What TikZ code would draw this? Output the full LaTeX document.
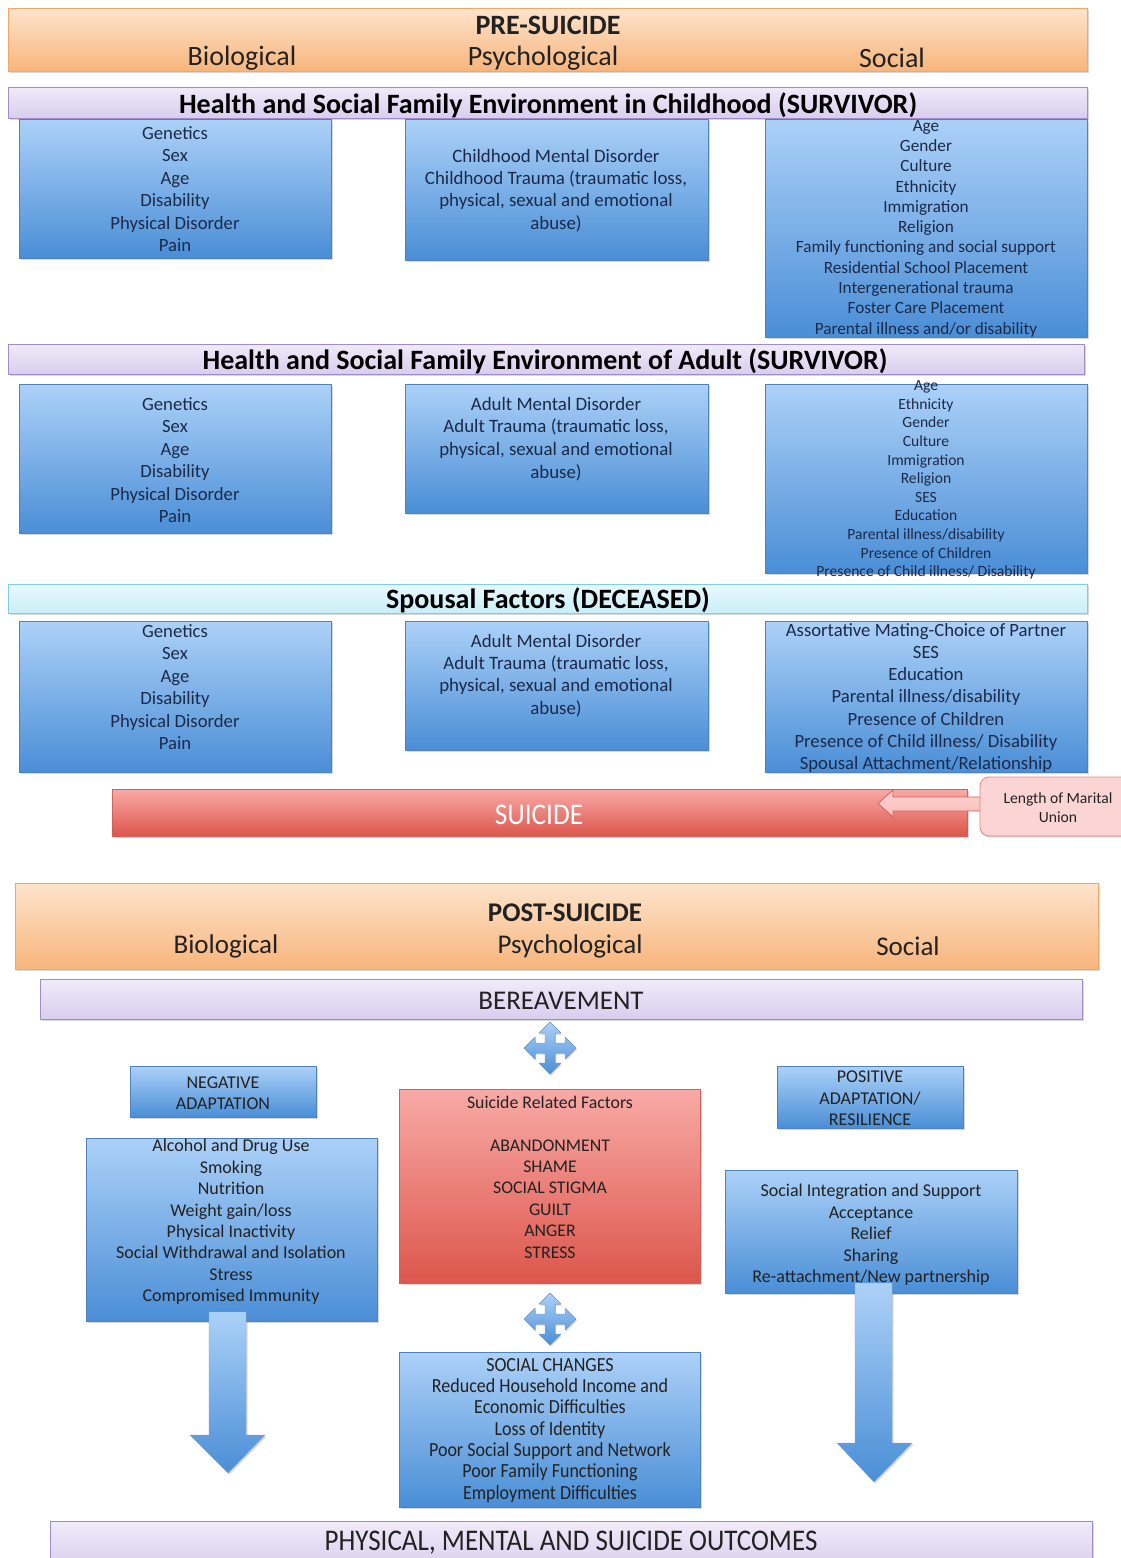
\documentclass[tikz,border=0pt]{standalone}
\usepackage{fontspec}
\usepackage{graphicx}
\setmainfont{Carlito}
\usetikzlibrary{shadows,calc}

\definecolor{orTop}{HTML}{FDE4CD}
\definecolor{orBot}{HTML}{F8B57C}
\definecolor{orLine}{HTML}{F2A765}
\definecolor{puTop}{HTML}{F0EBF8}
\definecolor{puBot}{HTML}{D9CDEE}
\definecolor{puLine}{HTML}{A08CC8}
\definecolor{cyTop}{HTML}{EAF9FD}
\definecolor{cyBot}{HTML}{C9EEF8}
\definecolor{cyLine}{HTML}{7CCFE4}
\definecolor{blTop}{HTML}{ACD1F8}
\definecolor{blBot}{HTML}{4A8ED6}
\definecolor{blLine}{HTML}{4F81BD}
\definecolor{rdTop}{HTML}{F9AAA6}
\definecolor{rdBot}{HTML}{DC564C}
\definecolor{rdLine}{HTML}{D0605A}
\definecolor{pkFill}{HTML}{FBD5D4}
\definecolor{pkLine}{HTML}{E08480}
\definecolor{navy}{HTML}{1C2A4A}
\definecolor{ink}{HTML}{222222}

\newcommand\fsz[2]{\fontsize{#1}{#2}\selectfont}
% box from its corners: style, x1, y1, x2, y2, name
\newcommand\pbox[6]{\node[#1,minimum width={#4-#2},minimum height={#5-#3}] (#6) at ({(#2+#4)/2},{(#3+#5)/2}) {};}
% four-way move arrow centred on a point
\newcommand\fourway[2]{%
  \fill[shade,top color=blTop,bottom color=blBot,draw=blLine!80,line width=0.4pt,
        drop shadow={shadow xshift=1pt,shadow yshift=-1.5pt,opacity=0.3}]
   ($(#1,#2)$) ++(0,-26) -- ++(11,11) -- ++(-6,0) -- ++(0,10) -- ++(10,0) -- ++(0,-6)
   -- ++(11,11) -- ++(-11,11) -- ++(0,-6) -- ++(-10,0) -- ++(0,10) -- ++(6,0)
   -- ++(-11,11) -- ++(-11,-11) -- ++(6,0) -- ++(0,-10) -- ++(-10,0) -- ++(0,6)
   -- ++(-11,-11) -- ++(11,-11) -- ++(0,6) -- ++(10,0) -- ++(0,-10) -- ++(-6,0) -- cycle;}

\tikzset{
  shad/.style={drop shadow={shadow xshift=1.5pt,shadow yshift=-1.5pt,opacity=0.3}},
  orangebar/.style={draw=orLine,line width=0.8pt,top color=orTop,bottom color=orBot,shad},
  purplebar/.style={draw=puLine,line width=0.8pt,top color=puTop,bottom color=puBot,shad},
  cyanbar/.style={draw=cyLine,line width=0.8pt,top color=cyTop,bottom color=cyBot,shad},
  bluebox/.style={draw=blLine,line width=0.6pt,top color=blTop,bottom color=blBot,shad},
  redbox/.style={draw=rdLine,line width=0.6pt,top color=rdTop,bottom color=rdBot,shad},
  pinkbox/.style={draw=pkLine,line width=0.8pt,fill=pkFill,rounded corners=9pt,shad},
  tx/.style={inner sep=0pt,align=center,text=navy},
  hd/.style={inner sep=0pt,align=center,text=ink},
  downarrow/.style={draw=blLine!70,line width=0.4pt,top color=blTop,bottom color=blBot,
        drop shadow={shadow xshift=1.5pt,shadow yshift=-1.5pt,opacity=0.3}},
}

\begin{document}
\begin{tikzpicture}[x=1pt,y=-1pt]
\useasboundingbox (0,0) rectangle (1121,1558);
\fill[white] (0,0) rectangle (1121,1558);

% ---------- pre-suicide header ----------
\pbox{orangebar}{8}{8}{1087}{71}{pre}
\node[hd,font=\fsz{28}{30}\bfseries] (preT) at (548,25) {PRE-SUICIDE};
\node[hd,font=\fsz{28}{30}] (preB) at (242,58) {Biological};
\node[hd,font=\fsz{28}{30}] (preP) at (543,58) {Psychological};
\node[hd,font=\fsz{28}{30}] (preS) at (892,58) {Social};

% ---------- childhood ----------
\pbox{purplebar}{8}{87}{1087}{118}{childbar}
\node[hd,font=\fsz{28}{30}\bfseries,text=black] (childT) at (548,105) {Health and Social Family Environment in Childhood (SURVIVOR)};

\pbox{bluebox}{19}{119}{331}{258}{cB}
\pbox{bluebox}{405}{119}{708}{260}{cP}
\pbox{bluebox}{765}{119}{1087}{337}{cS}
\node[tx,font=\fsz{18.7}{22.4}] (cBt) at (175,189) {Genetics\\Sex\\Age\\Disability\\Physical Disorder\\Pain};
\node[tx,font=\fsz{18.9}{22.4}] (cPt) at (556,190.5) {Childhood Mental Disorder\\Childhood Trauma (traumatic loss,\\physical, sexual and emotional\\abuse)};
\node[tx,font=\fsz{17.2}{20.3}] (cSt) at (926,228.5) {Age\\Gender\\Culture\\Ethnicity\\Immigration\\Religion\\Family functioning and social support\\Residential School Placement\\Intergenerational trauma\\Foster Care Placement\\Parental illness and/or disability};

% ---------- adult ----------
\pbox{purplebar}{8}{344}{1084}{374}{adultbar}
\node[hd,font=\fsz{28}{30}\bfseries,text=black] (adultT) at (545,361) {Health and Social Family Environment of Adult (SURVIVOR)};

\pbox{bluebox}{19}{384}{331}{533}{aB}
\pbox{bluebox}{405}{384}{708}{513}{aP}
\pbox{bluebox}{765}{384}{1087}{573}{aS}
\node[tx,font=\fsz{18.7}{22.4}] (aBt) at (175,460) {Genetics\\Sex\\Age\\Disability\\Physical Disorder\\Pain};
\node[tx,font=\fsz{18.9}{22.7}] (aPt) at (556,439) {Adult Mental Disorder\\Adult Trauma (traumatic loss,\\physical, sexual and emotional\\abuse)};
\node[tx,font=\fsz{15.6}{18.6}] (aSt) at (926,480) {Age\\Ethnicity\\Gender\\Culture\\Immigration\\Religion\\SES\\Education\\Parental illness/disability\\Presence of Children\\Presence of Child illness/ Disability};

% ---------- spouse ----------
\pbox{cyanbar}{8}{584}{1087}{613}{spbar}
\node[hd,font=\fsz{28}{30}\bfseries,text=black] (spT) at (548,600) {Spousal Factors (DECEASED)};

\pbox{bluebox}{19}{621}{331}{772}{sB}
\pbox{bluebox}{405}{621}{708}{750}{sP}
\pbox{bluebox}{765}{621}{1087}{772}{sS}
\node[tx,font=\fsz{18.7}{22.4}] (sBt) at (175,687) {Genetics\\Sex\\Age\\Disability\\Physical Disorder\\Pain};
\node[tx,font=\fsz{18.9}{22.3}] (sPt) at (556,675.5) {Adult Mental Disorder\\Adult Trauma (traumatic loss,\\physical, sexual and emotional\\abuse)};
\node[tx,font=\fsz{18.7}{22.3}] (sSt) at (926,698) {Assortative Mating-Choice of Partner\\SES\\Education\\Parental illness/disability\\Presence of Children\\Presence of Child illness/ Disability\\Spousal Attachment/Relationship};

% ---------- suicide bar ----------
\pbox{redbox}{112}{789}{967}{836}{suicide}
\node[hd,text=white,font=\fsz{30}{32}] (suicideT) at (539,815) {\scalebox{0.91}[1]{SUICIDE}};
\path[draw=rdLine,line width=0.8pt,top color=pkFill,bottom color=rdTop!80]
  (985,797) -- (893,797) -- (893,790) -- (878,803.5) -- (893,817) -- (893,811) -- (985,811) -- cycle;
\pbox{pinkbox}{980}{777}{1135}{836}{marital}
\node[hd,font=\fsz{15.6}{19}] (maritalT) at (1058,807.5) {Length of Marital\\Union};

% ---------- post-suicide header ----------
\pbox{orangebar}{15}{883}{1098}{969}{post}
\node[hd,font=\fsz{27}{30}\bfseries] (postT) at (565,913) {POST-SUICIDE};
\node[hd,font=\fsz{27}{30}] (postB) at (226,946) {Biological};
\node[hd,font=\fsz{27}{30}] (postP) at (570,946) {Psychological};
\node[hd,font=\fsz{27}{30}] (postS) at (908,946) {Social};

\pbox{purplebar}{40}{979}{1082}{1019}{bereave}
\node[hd,font=\fsz{27}{30}] (bereaveT) at (561,1001) {BEREAVEMENT};

\fourway{550}{1048}

\pbox{bluebox}{130}{1066}{316}{1117}{neg}
\node[hd,font=\fsz{18}{21}] (negT) at (223,1093.5) {NEGATIVE\\ADAPTATION};
\pbox{bluebox}{777}{1066}{963}{1128}{pos}
\node[hd,font=\fsz{18}{21.5}] (posT) at (870,1098.5) {POSITIVE\\ADAPTATION/\\RESILIENCE};

\pbox{redbox}{399}{1089}{700}{1283}{srf}
\node[hd,font=\fsz{17.8}{21.4}] (srfT) at (550,1177) {Suicide Related Factors\\[21.4pt]ABANDONMENT\\SHAME\\SOCIAL STIGMA\\GUILT\\ANGER\\STRESS};

\pbox{bluebox}{86}{1138}{377}{1321}{negL}
\node[hd,font=\fsz{18}{21.4}] (negLT) at (231,1222) {Alcohol and Drug Use\\Smoking\\Nutrition\\Weight gain/loss\\Physical Inactivity\\Social Withdrawal and Isolation\\Stress\\Compromised Immunity};

\pbox{bluebox}{725}{1170}{1017}{1293}{posL}
\node[hd,font=\fsz{18}{21.5}] (posLT) at (871,1235) {Social Integration and Support\\Acceptance\\Relief\\Sharing\\Re-attachment/New partnership};

\fourway{550}{1319}

\pbox{bluebox}{399}{1352}{700}{1507}{soc}
\node[hd,font=\fsz{20}{21.3}] (socT) at (550,1431) {\scalebox{0.9}[1]{\begin{tabular}{@{}c@{}}SOCIAL CHANGES\\Reduced Household Income and\\Economic Difficulties\\Loss of Identity\\Poor Social Support and Network\\Poor Family Functioning\\Employment Difficulties\end{tabular}}};

% ---------- downward arrows ----------
\path[downarrow] (209,1312) -- (246,1312) -- (246,1435) -- (265,1435) -- (228,1473)
  -- (190,1435) -- (209,1435) -- cycle;
\path[downarrow] (855,1283) -- (892,1283) -- (892,1443) -- (912,1443) -- (874,1482)
  -- (837,1443) -- (855,1443) -- cycle;

% ---------- outcomes ----------
\pbox{purplebar}{50}{1521}{1092}{1570}{outcome}
\node[hd,font=\fsz{30}{32}] (outcomeT) at (571,1543) {\scalebox{0.9}[1]{PHYSICAL, MENTAL AND SUICIDE OUTCOMES}};
\end{tikzpicture}
\end{document}
